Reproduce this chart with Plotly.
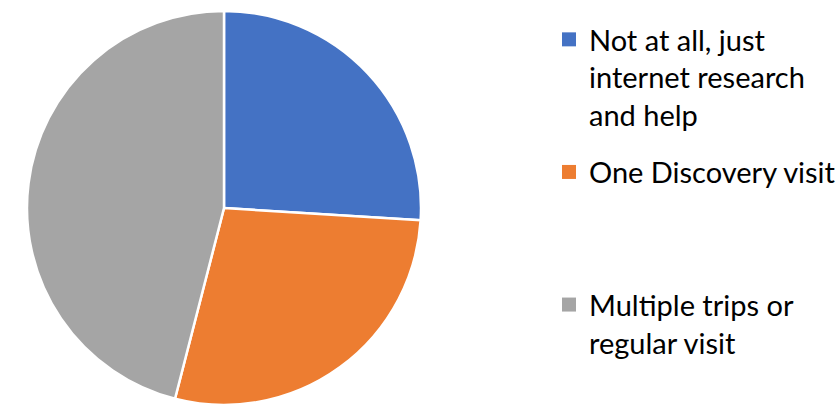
import plotly.graph_objects as go

# How often respondents visited before deciding
labels = [
    "Not at all, just<br>internet research<br>and help",
    "One Discovery visit",
    "Multiple trips or<br>regular visit",
]
values = [26, 28, 46]
colors = ["#4472C4", "#ED7D31", "#A5A5A5"]

W, H = 838, 405
FONT = "Lato, 'Open Sans', sans-serif"

fig = go.Figure()

fig.add_trace(
    go.Pie(
        labels=labels,
        values=values,
        sort=False,
        direction="clockwise",
        rotation=0,
        textinfo="none",
        hoverinfo="label+percent",
        showlegend=False,
        marker=dict(colors=colors, line=dict(color="white", width=2.5)),
        domain=dict(x=[27 / W, 421 / W], y=[0, 1 - 11 / H]),
    )
)

# Legend entries: one square swatch per category, evenly spaced like the
# original legend (shorter labels are padded with blank lines so every
# entry occupies the same height).
max_lines = max(lab.count("<br>") + 1 for lab in labels)
for lab, col in zip(labels, colors):
    pad = max_lines - (lab.count("<br>") + 1)
    if lab is labels[-1]:
        pad = 0
    fig.add_trace(
        go.Scatter(
            x=[None],
            y=[None],
            mode="markers",
            name=lab + "<br> " * pad,
            legendgroup=lab,
            marker=dict(symbol="square", size=14, color=col, line=dict(width=0)),
            hoverinfo="skip",
            showlegend=True,
        )
    )

fig.update_layout(
    width=W,
    height=H,
    margin=dict(l=0, r=0, t=0, b=0, autoexpand=False),
    paper_bgcolor="white",
    plot_bgcolor="white",
    font=dict(family=FONT, color="#000000"),
    xaxis=dict(visible=False),
    yaxis=dict(visible=False),
    legend=dict(
        x=549 / W,
        xanchor="left",
        y=1 - 14 / H,
        yanchor="top",
        valign="top",
        traceorder="grouped",
        tracegroupgap=16.5,
        itemclick=False,
        itemdoubleclick=False,
        font=dict(size=29, family=FONT, color="#000000"),
        bgcolor="rgba(0,0,0,0)",
    ),
)

fig.write_html("out.html")
